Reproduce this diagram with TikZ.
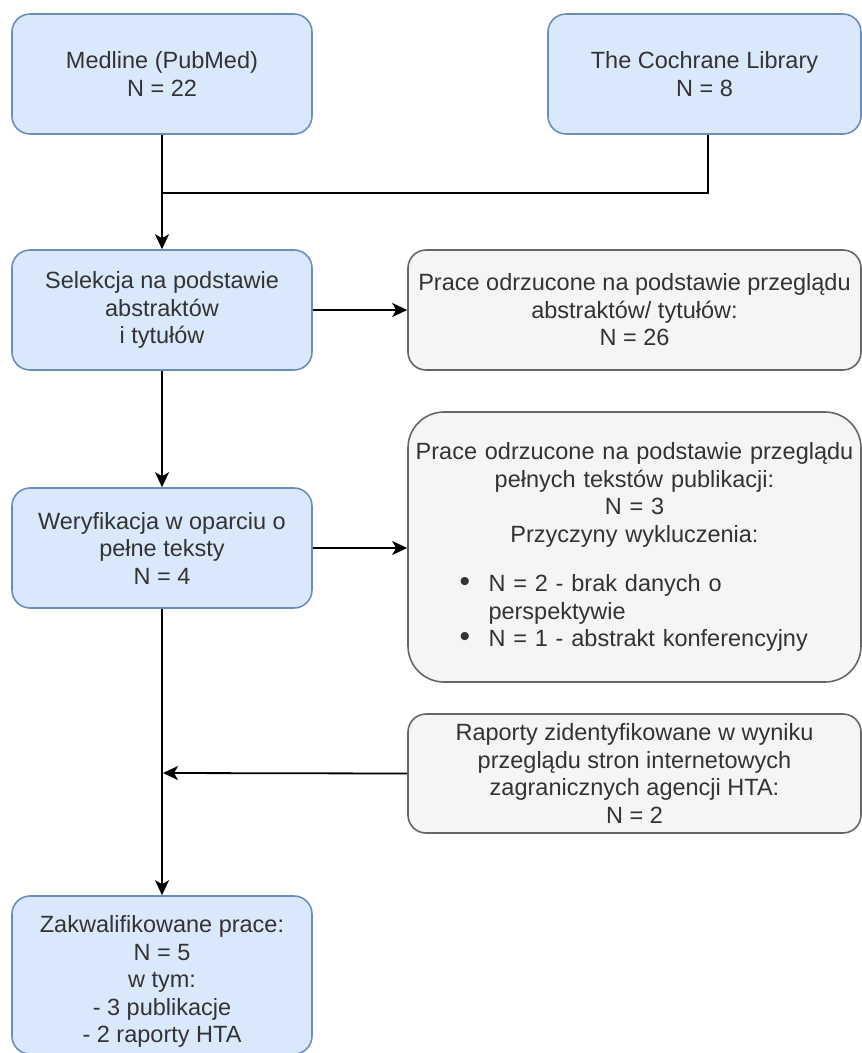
\documentclass[tikz,border=0pt]{standalone}
\usepackage{fontspec}
\setmainfont{Liberation Sans}
\usetikzlibrary{arrows.meta}
\definecolor{bfill}{HTML}{DAE8FC}
\definecolor{bdraw}{HTML}{6C8EBF}
\definecolor{gfill}{HTML}{F5F5F5}
\definecolor{gdraw}{HTML}{666666}
\definecolor{txt}{HTML}{333333}
\newcommand{\mybul}{\makebox[29pt][l]{{\fontsize{30}{27.5}\selectfont\textbullet}}}
\begin{document}
\begin{tikzpicture}[x=1pt,y=-1pt,
  every node/.style={font=\fontsize{23.5}{27.5}\selectfont, text=txt, inner sep=0pt},
  bluebox/.style={draw=bdraw, fill=bfill, line width=1.6pt, rounded corners=18pt, align=center},
  graybox/.style={draw=gdraw, fill=gfill, line width=1.6pt, rounded corners=18pt, align=center},
  conn/.style={line width=1.8pt, black},
  arr/.style={conn, -{Stealth[length=15pt,width=14pt,inset=4pt]}}]
\useasboundingbox (0,0) rectangle (862,1053);

\node[bluebox, minimum width=300pt, minimum height=120pt] (med) at (162,74) {Medline (PubMed)\\N = 22};
\node[bluebox, minimum width=313pt, minimum height=120pt] (coch) at (704.5,74) {The Cochrane Library\\N = 8};
\node[bluebox, minimum width=300pt, minimum height=120pt] (sel) at (162,310) {Selekcja na podstawie\\abstraktów\\i tytułów};
\node[graybox, minimum width=453pt, minimum height=120pt] (odr1) at (634.5,310) {Prace odrzucone na podstawie przeglądu\\abstraktów/ tytułów:\\N = 26};
\node[bluebox, minimum width=300pt, minimum height=120pt] (wer) at (162,548) {Weryfikacja w oparciu o\\pełne teksty\\N = 4};
\node[graybox, rounded corners=36pt, minimum width=453pt, minimum height=270pt, text width=440pt] (odr2) at (634.5,547)
  {Prace odrzucone na podstawie przeglądu\\pełnych tekstów publikacji:\\N = 3\\Przyczyny wykluczenia:\\[22pt]
   \makebox[440pt][l]{\hspace*{45pt}\mybul N = 2 - brak danych o}\\
   \makebox[440pt][l]{\hspace*{74pt}perspektywie}\\
   \makebox[440pt][l]{\hspace*{45pt}\mybul N = 1 - abstrakt konferencyjny}};
\node[graybox, minimum width=453pt, minimum height=119pt] (rap) at (634.5,773.5) {Raporty zidentyfikowane w wyniku\\przeglądu stron internetowych\\zagranicznych agencji HTA:\\N = 2};
\node[bluebox, minimum width=300pt, minimum height=158pt] (zak) at (162,975) {\rule{0pt}{30pt}Zakwalifikowane prace:\\N = 5\\w tym:\\- 3 publikacje\\- 2 raporty HTA};

\coordinate (j) at (162,193);
\coordinate (k) at (162,773);
\draw[arr] (med.south) -- (sel.north);
\draw[conn] ([xshift=3.5pt]coch.south) |- (j);
\draw[arr] (sel.east) -- (odr1.west);
\draw[arr] (sel.south) -- (wer.north);
\draw[arr] (wer.east) -- (odr2.west |- wer.east);
\draw[arr] (wer.south) -- (zak.north);
\draw[arr] (rap.west) -- ([xshift=1pt]k);
\end{tikzpicture}
\end{document}
